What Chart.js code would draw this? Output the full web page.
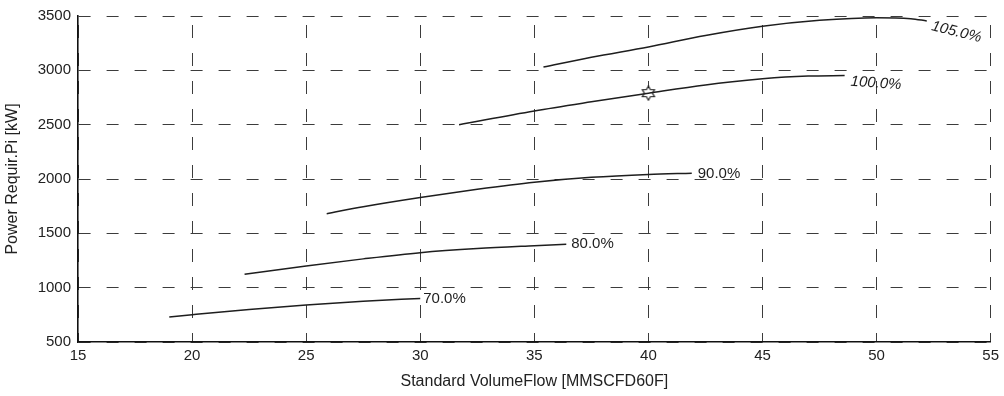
<!DOCTYPE html>
<html><head><meta charset="utf-8">
<script src="https://cdn.jsdelivr.net/npm/chart.js@4.4.1/dist/chart.umd.min.js"></script>
<style>html,body{margin:0;padding:0;background:#fff;}#wrap{width:1004px;height:396px;}</style>
</head><body><div id="wrap"><canvas id="c" width="1004" height="396"></canvas></div>
<script>
// ---- data ----
const flow70 = [19, 20, 22.5, 25, 27.5, 30];
const power70 = [730, 751, 800, 841, 875, 901];
const flow80 = [22.3, 25, 27.5, 30, 32.5, 35, 36.4];
const power80 = [1123, 1200, 1265, 1322, 1360, 1386, 1399];
const flow90 = [25.9, 27.5, 30, 32.5, 35, 37.5, 40, 41.9];
const power90 = [1681, 1745, 1830, 1905, 1970, 2015, 2042, 2054];
const flow100 = [31.7, 35, 37.5, 40, 42.5, 45, 46, 47, 48.6];
const power100 = [2500, 2626, 2710, 2790, 2866, 2922, 2938, 2947, 2952];
const flow105 = [35.4, 37.5, 40, 42.5, 45, 47.5, 50, 51.5, 52.2];
const power105 = [3030, 3120, 3215, 3320, 3405, 3460, 3485, 3475, 3455];
const curveLabels = ['70.0%', '80.0%', '90.0%', '100.0%', '105.0%'];
const markerFlow = [40];
const markerPower = [2790];
const xTickValues = [15, 20, 25, 30, 35, 40, 45, 50, 55];
const yTickValues = [500, 1000, 1500, 2000, 2500, 3000, 3500];
const xTitle = 'Standard VolumeFlow [MMSCFD60F]';
const yTitle = 'Power Requir.Pi [kW]';

// ---- styles ----
const FONT = '"Liberation Sans", Arial, Helvetica, sans-serif';
const INK = '#1e1e1e';
const labelStyles = [
  {dx: 3, dy: 0, rot: 0, italic: false},
  {dx: 5, dy: 0, rot: 0, italic: false},
  {dx: 6, dy: 1, rot: 0, italic: false},
  {dx: 6, dy: 6, rot: 4, italic: true},
  {dx: 5, dy: 5, rot: 14, italic: true}
];

function pts(xs, ys) { return xs.map((x, i) => ({x: x, y: ys[i]})); }

// hexagram point style
function makeStar() {
  const s = 16, c = document.createElement('canvas');
  c.width = s; c.height = s;
  const g = c.getContext('2d');
  const R = 7, r = R / Math.sqrt(3);
  g.beginPath();
  for (let i = 0; i < 12; i++) {
    const a = -Math.PI / 2 + i * Math.PI / 6;
    const rad = i % 2 === 0 ? R : r;
    const px = s / 2 + rad * Math.cos(a), py = s / 2 + rad * Math.sin(a);
    if (i === 0) g.moveTo(px, py); else g.lineTo(px, py);
  }
  g.closePath();
  g.fillStyle = '#fff'; g.fill();
  g.strokeStyle = INK; g.lineWidth = 1.2; g.stroke();
  return c;
}

const series = [
  pts(flow70, power70), pts(flow80, power80), pts(flow90, power90),
  pts(flow100, power100), pts(flow105, power105)
];

const lineSets = series.map((d, i) => ({
  data: d, borderColor: INK, borderWidth: 1.5, pointRadius: 0,
  cubicInterpolationMode: 'monotone', fill: false, curveLabel: curveLabels[i], labelStyle: labelStyles[i]
}));

const labelPlugin = {
  id: 'curveLabels',
  afterDatasetsDraw(chart) {
    const ctx = chart.ctx;
    chart.data.datasets.forEach((ds, i) => {
      if (!ds.curveLabel) return;
      const meta = chart.getDatasetMeta(i);
      const last = meta.data[meta.data.length - 1];
      const st = ds.labelStyle;
      ctx.save();
      ctx.translate(last.x + st.dx, last.y + st.dy);
      ctx.rotate(st.rot * Math.PI / 180);
      ctx.font = (st.italic ? 'italic ' : '') + '15px ' + FONT;
      ctx.fillStyle = INK;
      ctx.textAlign = 'left';
      ctx.textBaseline = 'middle';
      ctx.fillText(ds.curveLabel, 0, 0);
      ctx.restore();
    });
  }
};

new Chart(document.getElementById('c'), {
  type: 'line',
  data: {
    datasets: lineSets.concat([{
      data: pts(markerFlow, markerPower), showLine: false,
      pointStyle: makeStar(), pointRadius: 8, borderColor: INK, backgroundColor: '#fff'
    }])
  },
  options: {
    responsive: false, animation: false, devicePixelRatio: 1,
    layout: {padding: {top: 14, right: 12, left: 0, bottom: 0}},
    plugins: {legend: {display: false}, tooltip: {enabled: false}},
    scales: {
      x: {
        type: 'linear', min: 15, max: 55,
        afterBuildTicks: s => { s.ticks = xTickValues.map(v => ({value: v})); },
        afterFit: s => { s.height = 54; },
        ticks: {color: '#222', font: {family: FONT, size: 15}, padding: 5, maxRotation: 0, callback: v => String(v)},
        grid: {color: '#3c3c3c', lineWidth: 1, drawTicks: false},
        border: {display: true, color: '#111', width: 1.6, dash: [13, 15], dashOffset: 19},
        title: {display: true, text: xTitle, color: '#222', font: {family: FONT, size: 16}, padding: {top: 0, bottom: 5}}
      },
      y: {
        type: 'linear', min: 500, max: 3500,
        afterBuildTicks: s => { s.ticks = yTickValues.map(v => ({value: v})); },
        afterFit: s => { s.width = 78; },
        ticks: {color: '#222', font: {family: FONT, size: 15}, padding: 7, callback: v => String(v)},
        grid: {color: '#3c3c3c', lineWidth: 1, drawTicks: false},
        border: {display: true, color: '#111', width: 1.6, dash: [12, 16], dashOffset: 0},
        title: {display: true, text: yTitle, color: '#222', font: {family: FONT, size: 16}, padding: {top: 3, bottom: 0}}
      }
    }
  },
  plugins: [labelPlugin]
});
</script></body></html>
